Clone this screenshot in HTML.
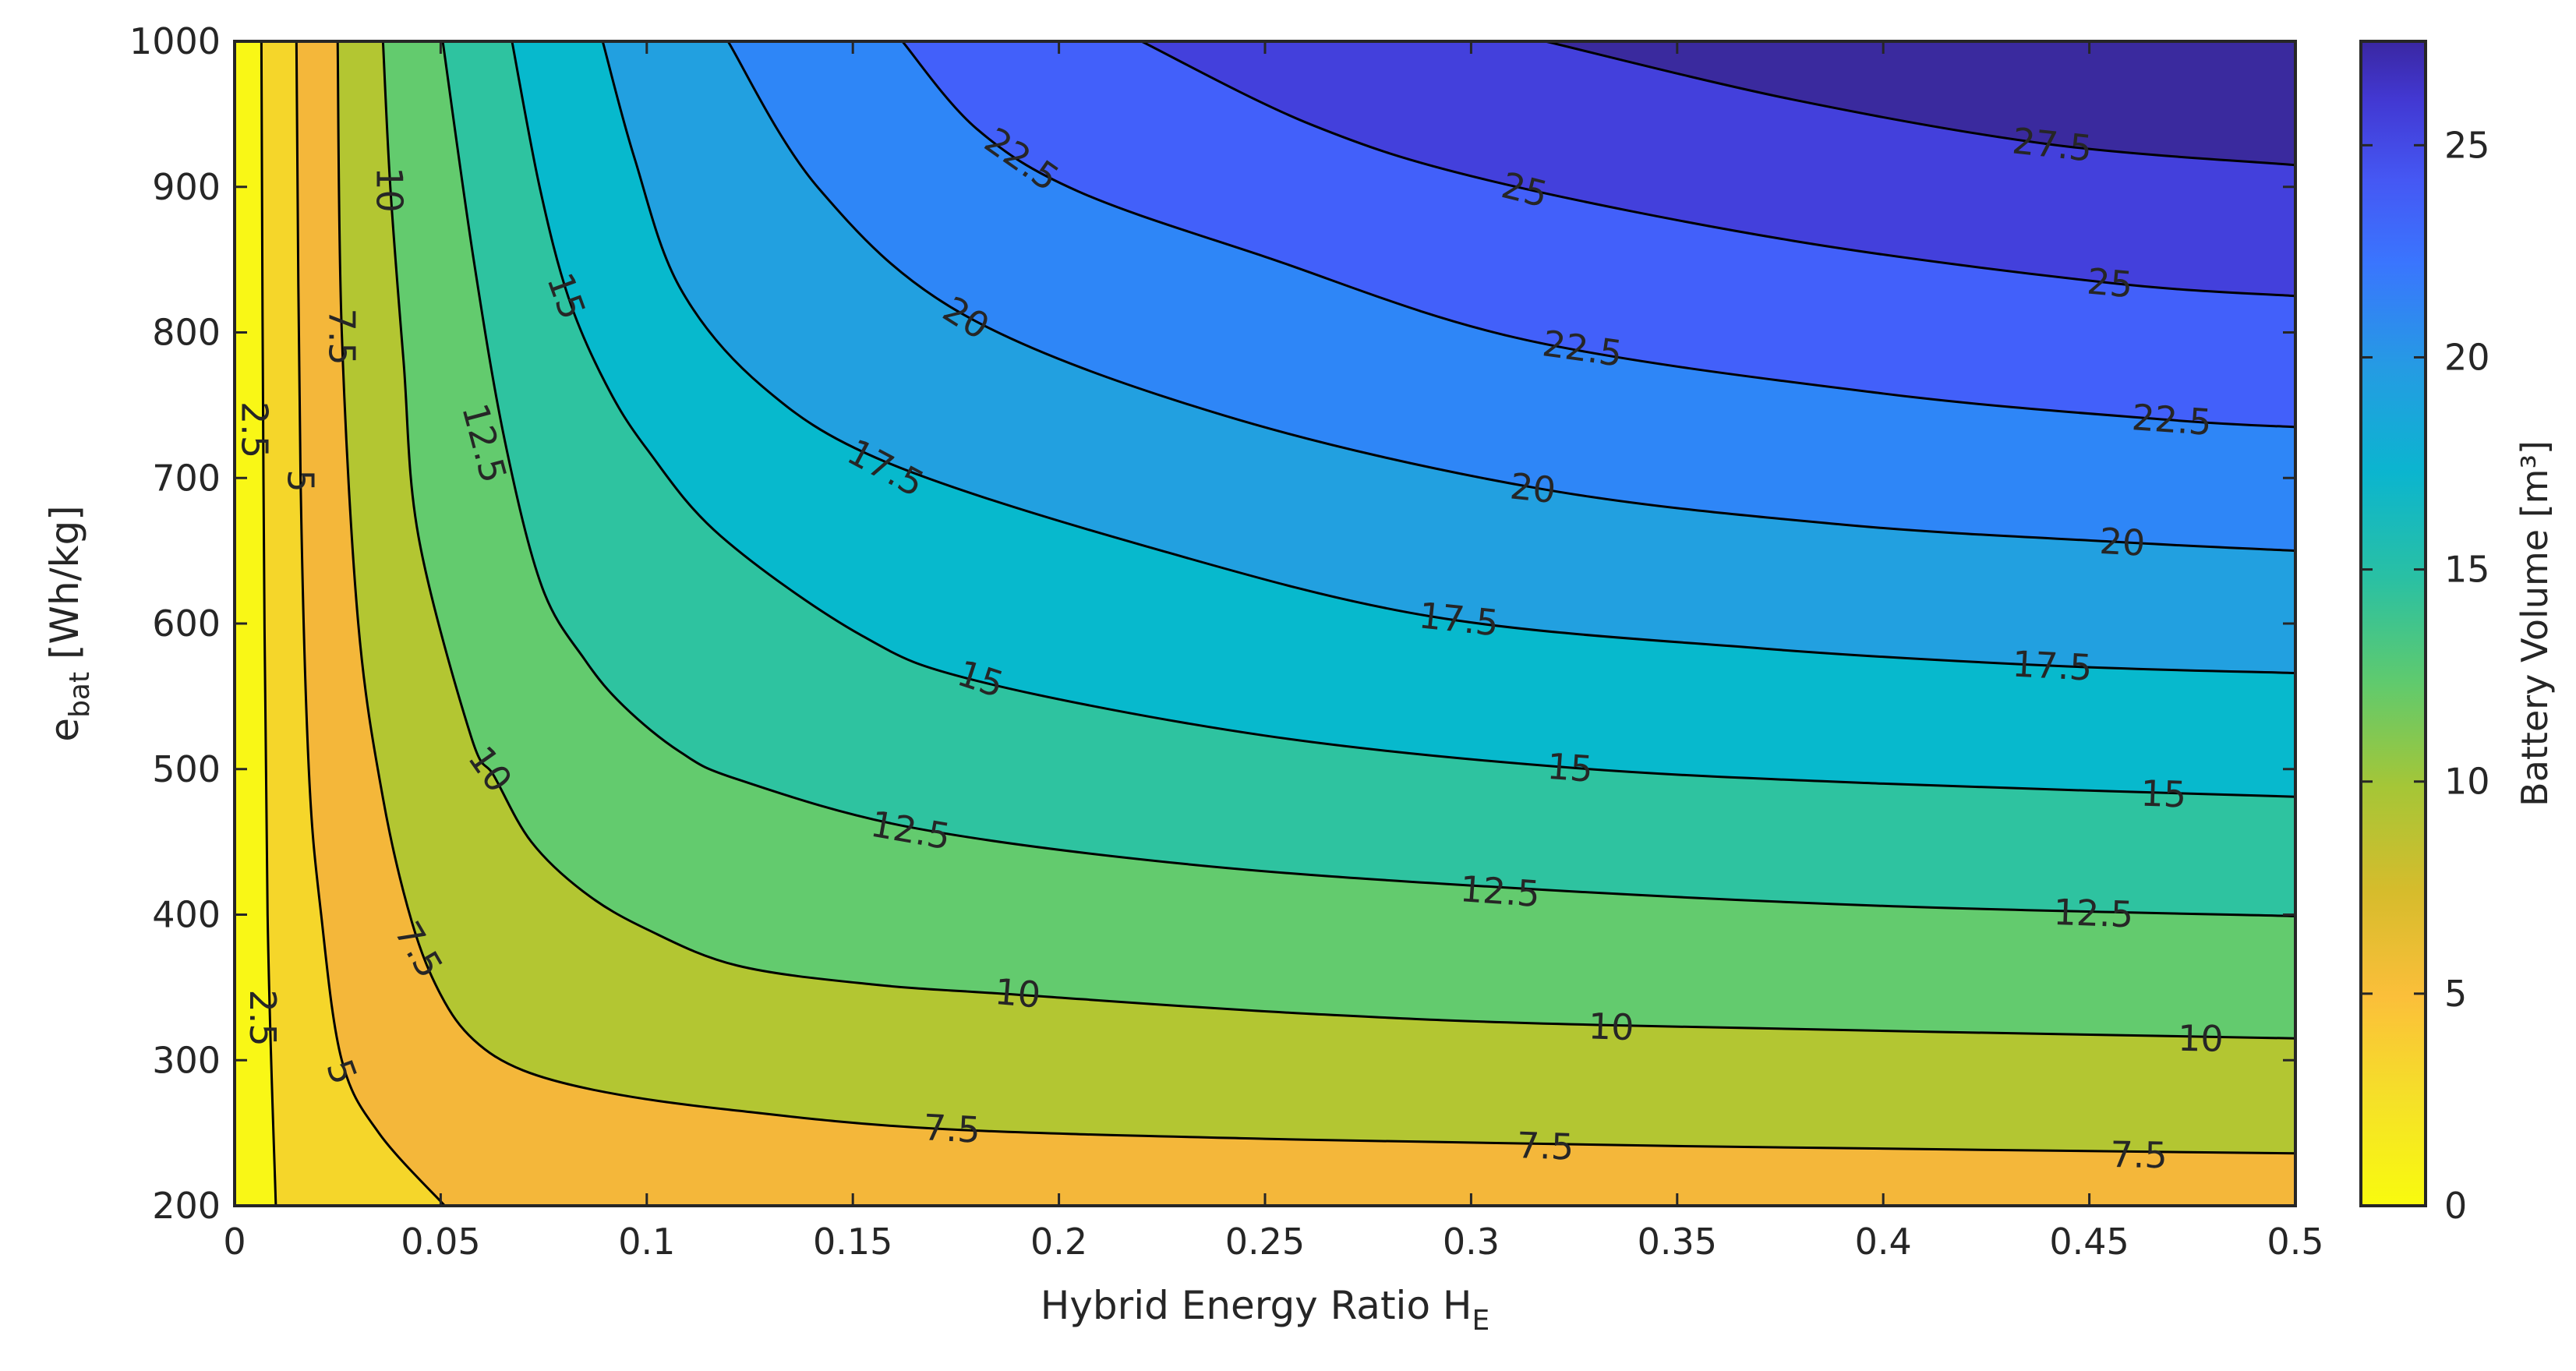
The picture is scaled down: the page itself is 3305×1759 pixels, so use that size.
<!DOCTYPE html>
<html><head><meta charset="utf-8">
<style>
html,body{margin:0;padding:0;background:#fff;}
svg{display:block;font-family:"DejaVu Sans","Liberation Sans",sans-serif;}
</style></head>
<body>
<svg id="chart" width="3305" height="1759" viewBox="0 0 3305 1759" xmlns="http://www.w3.org/2000/svg">
<defs>
<clipPath id="plotclip"><rect x="301" y="53" width="2644" height="1494"/></clipPath>
<linearGradient id="parula" x1="0" y1="1" x2="0" y2="0">
<stop offset="0" stop-color="#f9fb0e"/>
<stop offset="0.09" stop-color="#f5e128"/>
<stop offset="0.18" stop-color="#fbbf3a"/>
<stop offset="0.27" stop-color="#d6bc2c"/>
<stop offset="0.36" stop-color="#a5c637"/>
<stop offset="0.45" stop-color="#5fca6e"/>
<stop offset="0.54" stop-color="#29c0a4"/>
<stop offset="0.63" stop-color="#0bb5cf"/>
<stop offset="0.72" stop-color="#259be3"/>
<stop offset="0.81" stop-color="#3a75fe"/>
<stop offset="0.88" stop-color="#4558f4"/>
<stop offset="0.95" stop-color="#4238d2"/>
<stop offset="1" stop-color="#3a27a2"/>
</linearGradient>
</defs>
<g id="fills" clip-path="url(#plotclip)"></g>
<g id="lines" clip-path="url(#plotclip)"></g>
<g id="labels"></g>
<g id="axes"></g>
<text x="1623" y="1692" font-size="50" fill="#262626" text-anchor="middle">Hybrid Energy Ratio  H<tspan font-size="36" dy="14">E</tspan></text>
<text transform="translate(100,800) rotate(-90)" font-size="50" fill="#262626" text-anchor="middle">e<tspan font-size="36" dy="14">bat</tspan><tspan dy="-14">  [Wh/kg]</tspan></text>
<rect x="3029" y="53" width="83" height="1494" fill="url(#parula)" stroke="#262626" stroke-width="4"/>
<g id="cbaxis"></g>
<text transform="translate(3268,800) rotate(-90)" font-size="46" fill="#262626" text-anchor="middle">Battery Volume [m³]</text>
</svg>
<script>
const levels = [2.5,5,7.5,10,12.5,15,17.5,20,22.5,25,27.5];
const fillColors = ["#f9f716","#f5d62a","#f4b73a","#b3c632","#63cb6e","#2ec3a0","#07b9cd","#22a0e0","#2e86f7","#4260fa","#4340dc","#3a2a9e"];
const curveH = [
 [0.0065,0.007,0.008,0.01],
 [0.015,0.016,0.018,0.021,0.026,0.035,0.051],
 [0.025,0.026,0.03,0.036,0.043,0.05,0.058,0.07,0.09,0.12,0.17,0.25,0.35,0.5],
 [0.036,0.0378,0.041,0.0446,0.0573,0.063,0.072,0.085,0.1,0.122,0.155,0.19,0.26,0.334,0.5],
 [0.0505,0.058,0.0656,0.0746,0.085,0.0945,0.108,0.122,0.164,0.23,0.306,0.4,0.5],
 [0.0673,0.074,0.081,0.09,0.1,0.118,0.152,0.181,0.25,0.324,0.4,0.5],
 [0.0893,0.097,0.108,0.128,0.158,0.22,0.29,0.37,0.441,0.5],
 [0.1197,0.1417,0.177,0.24,0.316,0.39,0.457,0.5],
 [0.162,0.18,0.2046,0.25,0.313,0.4,0.469,0.5],
 [0.22,0.261,0.3035,0.378,0.455,0.5],
 [0.318,0.378,0.441,0.5]
];
const curveE = [
 [1000,700,400,200],
 [1000,700,500,400,300,250,200],
 [1000,800,600,480,395,345,314,293,278,266,253,246,241,236],
 [1000,899,780,660,523,495,450,415,390,365,352,345,332,324,315],
 [1000,850,725,625,575,543,512,493,460,435,419,406,399],
 [1000,900,824,765,720,660,592,560,523,501,490,481],
 [1000,920,831,763,711,654,605,583,571,566],
 [1000,899,812,743,693,668,656,650],
 [1000,940,897,852,795,758,740,735],
 [1000,943,905,863,834,825],
 [1000,960,929,915]
];
const labelText = ["10","7.5","2.5","5","15","12.5","22.5","20","17.5","25","27.5","25","22.5","22.5","20","20","17.5","17.5","15","15","15","12.5","12.5","12.5","10","10","10","10","7.5","7.5","7.5","7.5","2.5","5"];
const labelH = [0.0375,0.026,0.0048,0.016,0.0805,0.0606,0.191,0.1775,0.158,0.313,0.441,0.455,0.327,0.47,0.315,0.458,0.297,0.441,0.181,0.324,0.468,0.164,0.307,0.451,0.062,0.19,0.334,0.477,0.0447,0.174,0.318,0.462,0.0068,0.026];
const labelE = [898,797,733,698,825,724,919,810,707,898,929,834,789,740,693,656,603,571,562,501,483,458,416,401,500,346,323,315,376,253,241,235,329,292];
const labelAngle = [90,90,90,90,70,75,35,32,28,14,6,5,8,4,6,3,6,3,18,4,2,10,4,2,55,5,2,1,60,3,2,1,90,70];
const xTicks = [0,0.05,0.1,0.15,0.2,0.25,0.3,0.35,0.4,0.45,0.5];
const xTickLabels = ["0","0.05","0.1","0.15","0.2","0.25","0.3","0.35","0.4","0.45","0.5"];
const yTicks = [200,300,400,500,600,700,800,900,1000];
const cbTicks = [0,5,10,15,20,25];

const L=301,R=2945,T=53,B=1547;
const xs = h => L + (h-0)/0.5*(R-L);
const ys = e => B - (e-200)/800*(B-T);
const cbMax = 27.45;
const cy = v => B - v/cbMax*(B-T);
const NS="http://www.w3.org/2000/svg";
function mk(tag, attrs, parent){const el=document.createElementNS(NS,tag);for(const k in attrs)el.setAttribute(k,attrs[k]);parent.appendChild(el);return el;}
function smoothPath(pts){
  let d=`M${pts[0][0]},${pts[0][1]}`;
  for(let i=0;i<pts.length-1;i++){
    const p0=pts[Math.max(0,i-1)],p1=pts[i],p2=pts[i+1],p3=pts[Math.min(pts.length-1,i+2)];
    const c1=[p1[0]+(p2[0]-p0[0])/6,p1[1]+(p2[1]-p0[1])/6];
    const c2=[p2[0]-(p3[0]-p1[0])/6,p2[1]-(p3[1]-p1[1])/6];
    d+=` C${c1[0]},${c1[1]} ${c2[0]},${c2[1]} ${p2[0]},${p2[1]}`;
  }
  return d;
}
const fills=document.getElementById('fills'), lines=document.getElementById('lines'), labels=document.getElementById('labels'), axes=document.getElementById('axes'), cbaxis=document.getElementById('cbaxis');
const base=mk('rect',{x:L,y:T,width:R-L,height:B-T,fill:fillColors[0]},fills);


levels.forEach((lv,i)=>{
  const pts=curveH[i].map((h,j)=>[xs(h),ys(curveE[i][j])]);
  const line=smoothPath(pts);
  const lastE=curveE[i][curveE[i].length-1];
  let close = (lastE<=200) ? ` L${xs(0.5)},${ys(200)} L${xs(0.5)},${ys(1000)} Z` : ` L${xs(0.5)},${ys(1000)} Z`;
  const f=mk('path',{d:line+close,fill:fillColors[i+1]},fills);
  
  
  const l=mk('path',{d:line,fill:'none',stroke:'#000','stroke-width':3},lines);
  
  
});
labelText.forEach((t,i)=>{
  const x=xs(labelH[i]),y=ys(labelE[i]);
  const tx=mk('text',{x:0,y:0,transform:`translate(${x},${y}) rotate(${labelAngle[i]})`,'font-size':46,fill:'#262626','text-anchor':'middle','dominant-baseline':'central'},labels);
  tx.textContent=t;
  
  
});
const frame=mk('rect',{x:L,y:T,width:R-L,height:B-T,fill:'none',stroke:'#262626','stroke-width':4},axes);


xTicks.forEach((v,i)=>{
  const x=xs(v);
  mk('line',{x1:x,y1:B,x2:x,y2:B-16,stroke:'#262626','stroke-width':3},axes);
  mk('line',{x1:x,y1:T,x2:x,y2:T+16,stroke:'#262626','stroke-width':3},axes);
  const t=mk('text',{x:x,y:B+62,'font-size':46,fill:'#262626','text-anchor':'middle'},axes);
  t.textContent=xTickLabels[i];
  
  
});
yTicks.forEach(v=>{
  const y=ys(v);
  mk('line',{x1:L,y1:y,x2:L+16,y2:y,stroke:'#262626','stroke-width':3},axes);
  mk('line',{x1:R,y1:y,x2:R-16,y2:y,stroke:'#262626','stroke-width':3},axes);
  const t=mk('text',{x:L-18,y:y+16,'font-size':46,fill:'#262626','text-anchor':'end'},axes);
  t.textContent=String(v);
  
  
});
cbTicks.forEach(v=>{
  const y=cy(v);
  mk('line',{x1:3112,y1:y,x2:3097,y2:y,stroke:'#262626','stroke-width':3},cbaxis);
  mk('line',{x1:3029,y1:y,x2:3044,y2:y,stroke:'#262626','stroke-width':3},cbaxis);
  const t=mk('text',{x:3136,y:y+16,'font-size':46,fill:'#262626','text-anchor':'start'},cbaxis);
  t.textContent=String(v);
  
  
});
</script>
</body></html>
